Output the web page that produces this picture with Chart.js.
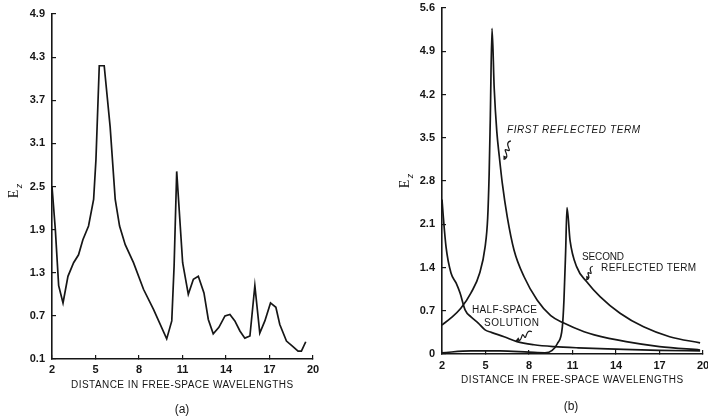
<!DOCTYPE html>
<html>
<head>
<meta charset="utf-8">
<script src="https://cdn.jsdelivr.net/npm/chart.js@4.4.1/dist/chart.umd.min.js"></script>
<style>
  html, body { margin: 0; padding: 0; background: #fff; }
  #wrap { position: relative; width: 708px; height: 418px; }
  .panel { position: absolute; top: 0; width: 354px; height: 418px; }
</style>
</head>
<body>
<div id="wrap">
  <div class="panel" style="left:0"><canvas id="chartA" width="354" height="418"></canvas></div>
  <div class="panel" style="left:354px"><canvas id="chartB" width="354" height="418"></canvas></div>
</div>
<script>
// ---- data ----
const xTicks = [2, 5, 8, 11, 14, 17, 20];
const xTickLabels = ['2', '5', '8', '11', '14', '17', '20'];

// (a) total field
const aDist = [2, 2.23, 2.46, 2.76, 3.1, 3.49, 3.83, 4.13, 4.52, 4.87, 5.03, 5.26, 5.6, 6.01, 6.36, 6.66,
  7.05, 7.62, 8.31, 9.0, 9.91, 10.26, 10.42, 10.6, 11.01, 11.4, 11.75, 12.09, 12.48, 12.78, 13.12, 13.51,
  13.93, 14.27, 14.61, 14.96, 15.3, 15.65, 15.99, 16.33, 16.68, 17.07, 17.44, 17.71, 18.17, 18.58, 18.97, 19.2, 19.5];
const aField = [2.5, 1.9, 1.12, 0.88, 1.25, 1.44, 1.55, 1.76, 1.95, 2.32, 2.87, 4.18, 4.18, 3.33, 2.32, 1.95,
  1.69, 1.44, 1.07, 0.79, 0.38, 0.63, 1.39, 2.71, 1.44, 1.0, 1.21, 1.25, 1.02, 0.65, 0.45, 0.54,
  0.7, 0.72, 0.63, 0.49, 0.39, 0.42, 1.12, 0.46, 0.63, 0.88, 0.82, 0.58, 0.35, 0.28, 0.21, 0.21, 0.34];
const yTicksA = [0.1, 0.7, 1.3, 1.9, 2.5, 3.1, 3.7, 4.3, 4.9];
const yTickLabelsA = ['0.1', '0.7', '1.3', '1.9', '2.5', '3.1', '3.7', '4.3', '4.9'];

// (b) components
const firstDist = [2, 2.6, 3.3, 4.0, 4.6, 4.97, 5.15, 5.25, 5.33, 5.45, 5.6, 5.78, 5.95, 6.16, 6.5, 6.97,
  7.66, 8.57, 9.5, 10.4, 11.8, 12.5, 14.7, 17.0, 19.8];
const firstField = [0.47, 0.58, 0.74, 0.99, 1.31, 1.73, 2.2, 2.9, 3.8, 5.27, 4.3, 3.6, 3.2, 2.76, 2.22, 1.68,
  1.25, 0.87, 0.62, 0.5, 0.36, 0.31, 0.2, 0.12, 0.065];
const secondDist = [2, 4, 6, 8, 9.1, 9.6, 9.96, 10.3, 10.41, 10.53, 10.62, 10.83, 11.29, 11.98, 12.9, 14.28,
  15.9, 17.7, 19.8];
const secondField = [0.02, 0.05, 0.05, 0.03, 0.02, 0.06, 0.17, 0.44, 0.87, 1.68, 2.37, 1.84, 1.41, 1.17, 0.93, 0.66,
  0.44, 0.28, 0.18];
const halfDist = [2, 2.07, 2.28, 2.62, 2.97, 3.24, 3.6, 4.0, 4.5, 4.97, 5.4, 6.28, 7.17, 8.34, 9.72, 11.4,
  14, 17, 19.8];
const halfField = [2.5, 2.28, 1.73, 1.31, 1.15, 0.99, 0.71, 0.6, 0.5, 0.39, 0.35, 0.28, 0.2, 0.15, 0.12, 0.1,
  0.08, 0.06, 0.05];
const yTicksB = [0, 0.7, 1.4, 2.1, 2.8, 3.5, 4.2, 4.9, 5.6];
const yTickLabelsB = ['0', '0.7', '1.4', '2.1', '2.8', '3.5', '4.2', '4.9', '5.6'];

const xTitle = 'DISTANCE IN FREE-SPACE WAVELENGTHS';
// ----------------------------------

const ink = '#161616';
const tickFont = { family: 'Liberation Sans', size: 11, weight: 'bold' };

function pts(xs, ys) {
  return xs.map((x, i) => ({ x: x, y: ys[i] }));
}

// text stretched to a given width with letter spacing
function spaced(ctx, text, x, y, width, align) {
  ctx.letterSpacing = '0px';
  const w0 = ctx.measureText(text).width;
  const ls = (width - w0) / Math.max(text.length - 1, 1);
  ctx.letterSpacing = ls.toFixed(2) + 'px';
  const left = align === 'center' ? x - width / 2 : x;
  ctx.textAlign = 'left';
  ctx.fillText(text, left, y);
  ctx.letterSpacing = '0px';
}

function yTitle(ctx, cx, cy) {
  ctx.save();
  ctx.translate(cx, cy);
  ctx.rotate(-Math.PI / 2);
  ctx.fillStyle = ink;
  ctx.textBaseline = 'middle';
  ctx.textAlign = 'center';
  ctx.font = '14px "Liberation Serif"';
  ctx.fillText('E', -2, 0);
  ctx.font = 'italic 9px "Liberation Sans"';
  ctx.fillText('z', 6, 5);
  ctx.restore();
}

// little squiggle leader with arrow head
function squiggle(ctx, x0, y0, x1, y1) {
  const mx = (x0 + x1) / 2, my = (y0 + y1) / 2;
  const dx = x1 - x0, dy = y1 - y0;
  const nx = -dy * 0.35, ny = dx * 0.35;
  ctx.beginPath();
  ctx.moveTo(x0, y0);
  ctx.bezierCurveTo(x0 + dx * 0.25 + nx, y0 + dy * 0.25 + ny, mx - nx, my - ny, mx, my);
  ctx.bezierCurveTo(mx + nx, my + ny, x1 - dx * 0.25 - nx, y1 - dy * 0.25 - ny, x1, y1);
  ctx.stroke();
  const a = Math.atan2(dy, dx);
  ctx.beginPath();
  ctx.moveTo(x1, y1);
  ctx.lineTo(x1 - 4 * Math.cos(a - 0.45), y1 - 4 * Math.sin(a - 0.45));
  ctx.lineTo(x1 - 4 * Math.cos(a + 0.45), y1 - 4 * Math.sin(a + 0.45));
  ctx.closePath();
  ctx.fill();
}

function makeOptions(cfg) {
  return {
    responsive: false,
    animation: false,
    layout: { padding: cfg.pad },
    plugins: { legend: { display: false }, tooltip: { enabled: false } },
    scales: {
      x: {
        type: 'linear', min: 2, max: 20,
        afterBuildTicks: s => { s.ticks = xTicks.map(v => ({ value: v })); },
        afterFit: s => { s.height = 20; s.paddingLeft = 0; s.paddingRight = 0; },
        grid: { drawOnChartArea: false, drawTicks: true, tickLength: -4, color: ink, lineWidth: 1.2 },
        border: { color: ink, width: 1.6 },
        ticks: { color: ink, font: tickFont, padding: cfg.xPad, maxRotation: 0, autoSkip: false,
          callback: (v, i) => xTickLabels[i] }
      },
      y: {
        min: cfg.yTicks[0], max: cfg.yTicks[cfg.yTicks.length - 1],
        afterBuildTicks: s => { s.ticks = cfg.yTicks.map(v => ({ value: v })); },
        afterFit: s => { s.width = 40; s.paddingTop = 0; s.paddingBottom = 0; },
        grid: { drawOnChartArea: false, drawTicks: true, tickLength: -4, color: ink, lineWidth: 1.2 },
        border: { color: ink, width: 1.6 },
        ticks: { color: ink, font: tickFont, padding: 11, autoSkip: false,
          callback: (v, i) => cfg.yLabels[i] }
      }
    }
  };
}

const lineStyle = { borderColor: ink, borderWidth: 1.7, pointRadius: 0, fill: false };

// ---- panel (a) ----
const textA = {
  id: 'textA',
  afterDraw(chart) {
    const ctx = chart.ctx, area = chart.chartArea;
    ctx.save();
    ctx.fillStyle = ink;
    ctx.textBaseline = 'middle';
    yTitle(ctx, 14, 192);
    ctx.font = '10px "Liberation Sans"';
    spaced(ctx, xTitle, (area.left + area.right) / 2 - 0.5, 385, 222, 'center');
    ctx.font = '12px "Liberation Sans"';
    ctx.textAlign = 'center';
    ctx.fillText('(a)', 182, 410);
    ctx.restore();
  }
};

new Chart(document.getElementById('chartA'), {
  type: 'line',
  data: { datasets: [Object.assign({ data: pts(aDist, aField), tension: 0 }, lineStyle)] },
  options: makeOptions({
    pad: { left: 12, right: 41, top: 14, bottom: 39 },
    xPad: 8, yTicks: yTicksA, yLabels: yTickLabelsA
  }),
  plugins: [textA]
});

// ---- panel (b) ----
const textB = {
  id: 'textB',
  afterDraw(chart) {
    const ctx = chart.ctx;
    const X = v => chart.scales.x.getPixelForValue(v);
    const Y = v => chart.scales.y.getPixelForValue(v);
    ctx.save();
    ctx.fillStyle = ink;
    ctx.strokeStyle = ink;
    ctx.lineWidth = 1.2;
    ctx.textBaseline = 'middle';
    yTitle(ctx, 51, 182);
    ctx.font = '10px "Liberation Sans"';
    spaced(ctx, xTitle, 218, 380, 222, 'center');
    ctx.font = '12px "Liberation Sans"';
    ctx.textAlign = 'center';
    ctx.fillText('(b)', 217, 407);

    ctx.font = 'italic 10px "Liberation Sans"';
    spaced(ctx, 'FIRST REFLECTED TERM', X(6.48), Y(3.62), 133, 'left');
    squiggle(ctx, X(6.75), Y(3.45), X(6.25), Y(3.15));

    ctx.font = '10px "Liberation Sans"';
    spaced(ctx, 'SECOND', X(11.66), Y(1.57), 42, 'left');
    spaced(ctx, 'REFLECTED TERM', X(12.97), Y(1.39), 95, 'left');
    squiggle(ctx, X(12.4), Y(1.42), X(11.95), Y(1.2));

    spaced(ctx, 'HALF-SPACE', X(4.07), Y(0.71), 65, 'left');
    spaced(ctx, 'SOLUTION', X(4.9), Y(0.5), 55, 'left');
    squiggle(ctx, X(8.2), Y(0.36), X(7.1), Y(0.22));
    ctx.restore();
  }
};

new Chart(document.getElementById('chartB'), {
  type: 'line',
  data: {
    datasets: [
      Object.assign({ data: pts(firstDist, firstField), cubicInterpolationMode: 'monotone' }, lineStyle),
      Object.assign({ data: pts(secondDist, secondField), cubicInterpolationMode: 'monotone' }, lineStyle),
      Object.assign({ data: pts(halfDist, halfField), cubicInterpolationMode: 'monotone' }, lineStyle)
    ]
  },
  options: makeOptions({
    pad: { left: 48, right: 5, top: 8, bottom: 44 },
    xPad: 9, yTicks: yTicksB, yLabels: yTickLabelsB
  }),
  plugins: [textB]
});
</script>
</body>
</html>
